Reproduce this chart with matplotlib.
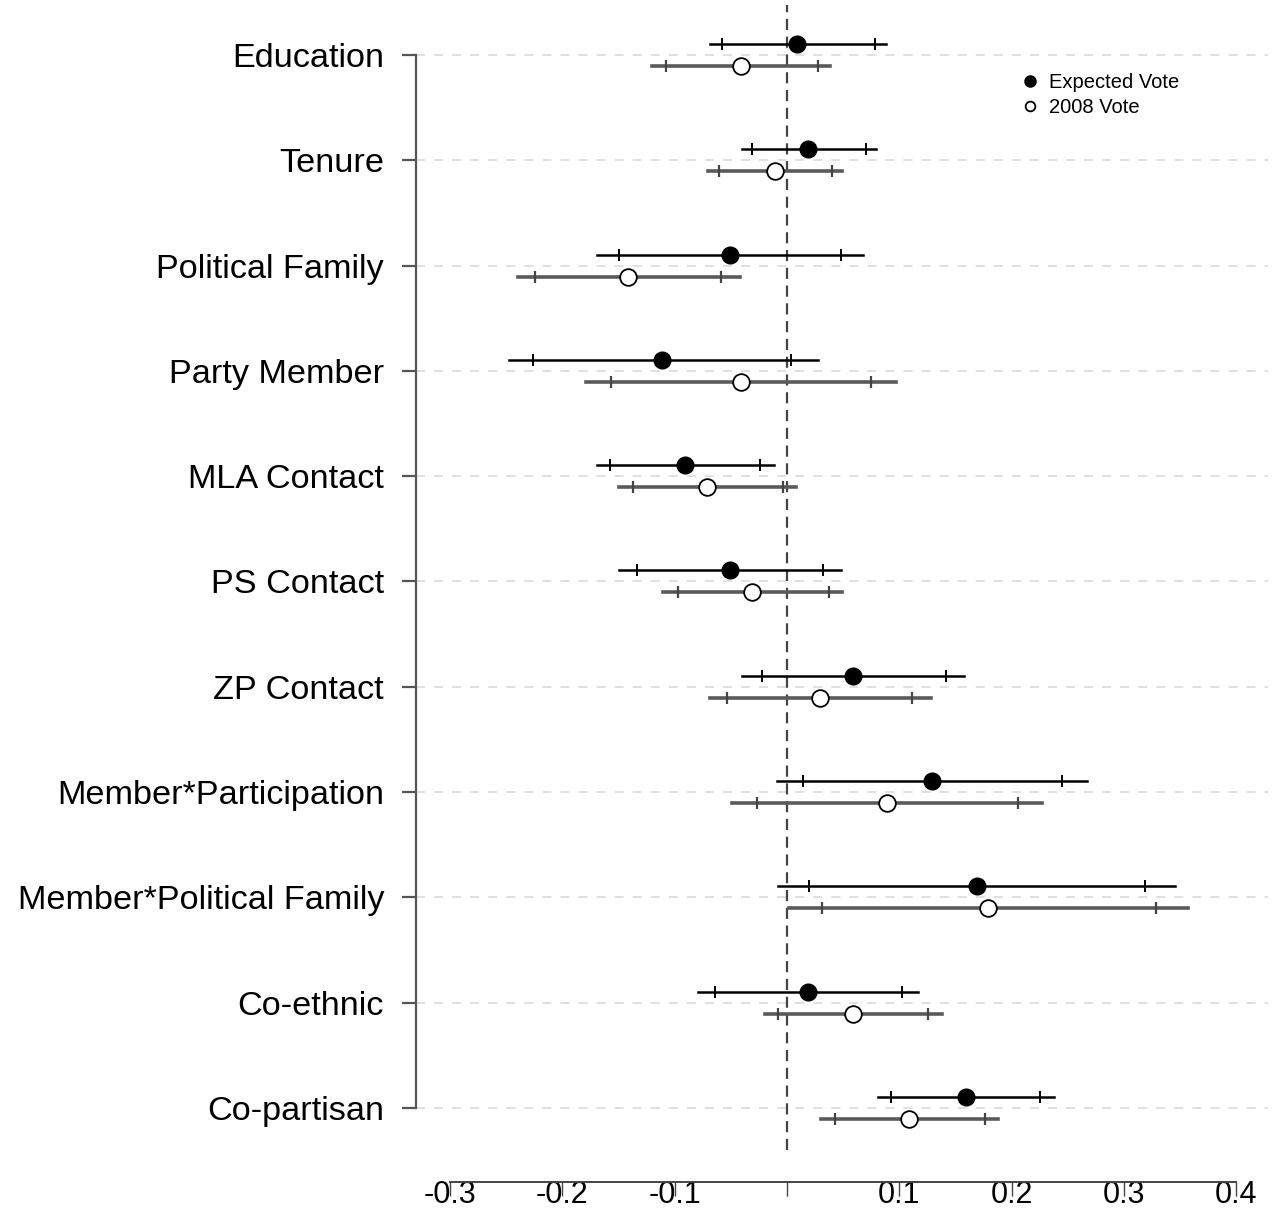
import matplotlib.pyplot as plt
from matplotlib.lines import Line2D

plt.rcParams['font.family'] = ['Liberation Sans', 'DejaVu Sans']

labels = ['Education', 'Tenure', 'Political Family', 'Party Member', 'MLA Contact',
          'PS Contact', 'ZP Contact', 'Member*Participation', 'Member*Political Family',
          'Co-ethnic', 'Co-partisan']

# Expected Vote: estimate, 95% interval, 90% interval
exp_est = [0.009, 0.019, -0.051, -0.111, -0.091, -0.051, 0.059, 0.129, 0.169, 0.019, 0.159]
exp_lo95 = [-0.069, -0.040, -0.169, -0.248, -0.169, -0.150, -0.040, -0.009, -0.008, -0.079, 0.081]
exp_hi95 = [0.088, 0.079, 0.068, 0.028, -0.012, 0.048, 0.158, 0.267, 0.346, 0.117, 0.238]
exp_lo90 = [-0.058, -0.031, -0.150, -0.226, -0.158, -0.134, -0.022, 0.014, 0.020, -0.064, 0.093]
exp_hi90 = [0.078, 0.070, 0.048, 0.004, -0.024, 0.032, 0.142, 0.245, 0.319, 0.102, 0.225]

# 2008 Vote
v08_est = [-0.041, -0.011, -0.142, -0.041, -0.071, -0.031, 0.029, 0.089, 0.179, 0.059, 0.109]
v08_lo95 = [-0.120, -0.070, -0.240, -0.179, -0.150, -0.110, -0.069, -0.049, 0.002, -0.020, 0.030]
v08_hi95 = [0.038, 0.049, -0.042, 0.097, 0.008, 0.049, 0.128, 0.227, 0.357, 0.138, 0.188]
v08_lo90 = [-0.108, -0.061, -0.224, -0.157, -0.137, -0.097, -0.053, -0.027, 0.031, -0.008, 0.043]
v08_hi90 = [0.028, 0.040, -0.059, 0.075, -0.004, 0.037, 0.111, 0.206, 0.329, 0.126, 0.176]

xticks = [-0.3, -0.2, -0.1, 0.0, 0.1, 0.2, 0.3, 0.4]
xticklabels = ['-0.3', '-0.2', '-0.1', '', '0.1', '0.2', '0.3', '0.4']

fig = plt.figure(figsize=(12.73, 12.11), dpi=100)
ax = fig.add_axes([0.3268, 0.0504, 0.6692, 0.9455])

off = 0.104
for i in range(len(labels)):
    # expected vote (upper, black)
    y = i - off
    ax.plot([exp_lo95[i], exp_hi95[i]], [y, y], color='black', lw=1.8, zorder=3)
    ax.plot([exp_lo90[i], exp_hi90[i]], [y, y], ls='none', marker='|', ms=8,
            mew=1.4, color='black', zorder=3)
    ax.plot(exp_est[i], y, marker='o', ms=12, color='black', zorder=4)
    # 2008 vote (lower, grey)
    y = i + off
    ax.plot([v08_lo95[i], v08_hi95[i]], [y, y], color='#5a5a5a', lw=2.6, zorder=3)
    ax.plot([v08_lo90[i], v08_hi90[i]], [y, y], ls='none', marker='|', ms=8,
            mew=1.6, color='#444444', zorder=3)
    ax.plot(v08_est[i], y, marker='o', ms=12, mfc='white', mec='black', mew=1.3, zorder=4)

ax.axvline(0, color='#444444', ls=(0, (5, 3)), lw=1.6, zorder=2)

ax.set_xlim(-0.3304, 0.4283)
ax.set_ylim(10.40, -0.475)

for s in ['top', 'right']:
    ax.spines[s].set_visible(False)
ax.spines['left'].set_bounds(0, 10)
ax.spines['left'].set_color('#555555')
ax.spines['left'].set_linewidth(1.6)
ax.spines['bottom'].set_position(('outward', 23))
ax.spines['bottom'].set_bounds(-0.3, 0.4)
ax.spines['bottom'].set_color('#444444')
ax.spines['bottom'].set_linewidth(1.4)

ax.set_yticks(range(len(labels)))
ax.set_yticklabels(labels)
ax.yaxis.grid(True, ls=(0, (5, 5)), color='#dddddd', lw=1.3)
ax.set_axisbelow(True)

ax.set_xticks(xticks)
ax.set_xticklabels(xticklabels)

ax.tick_params(axis='y', length=10, width=1.6, color='#555555', pad=13, labelsize=24.7)
ax.tick_params(axis='x', length=10, width=1.0, color='#444444', pad=-11.5, labelsize=22)

handles = [Line2D([], [], ls='none', marker='o', ms=8, color='black'),
           Line2D([], [], ls='none', marker='o', ms=7, mfc='white', mec='black', mew=1.3)]
fig.legend(handles, ['Expected Vote', '2008 Vote'], loc='upper left',
           bbox_to_anchor=(1020 / 1273, 1 - 73 / 1211), frameon=False, fontsize=14.5,
           handlelength=1.0, handletextpad=0.45, labelspacing=0.3, borderaxespad=0,
           borderpad=0)

fig.savefig('out.png', dpi=100)
